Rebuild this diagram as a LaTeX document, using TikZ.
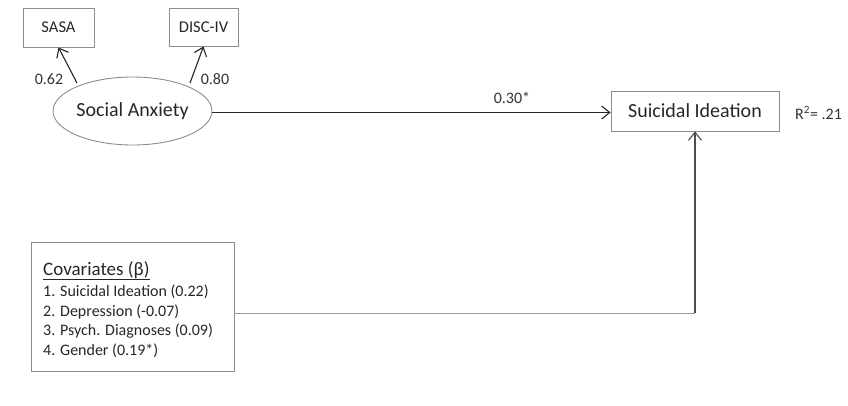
\documentclass[tikz,border=0pt]{standalone}
\usepackage{fontspec}
\setmainfont{Carlito}
\usetikzlibrary{shapes.geometric,arrows.meta}
\begin{document}
\begin{tikzpicture}[x=1pt,y=-1pt,
  box/.style={draw=black!45,line width=0.9pt,inner sep=0pt},
  con/.style={line width=1.1pt,draw=black!85,-{Straight Barb[length=8pt,width=13pt,line width=1.1pt]}},
  lbl/.style={font=\fontsize{16}{19}\selectfont,text=black!80,inner sep=0pt},
  item/.style={anchor=base west,inner sep=0pt,font=\fontsize{16}{19}\selectfont,text=black!85},
  big/.style={font=\fontsize{20}{24}\selectfont,text=black!85}]
\useasboundingbox (0,0) rectangle (848,405);
\node[box,minimum width=71pt,minimum height=39pt,font=\fontsize{16.5}{19}\selectfont,text=black!85] (sasa) at (58.5,27.5) {SASA};
\node[box,minimum width=69pt,minimum height=38pt,font=\fontsize{16.5}{19}\selectfont,text=black!85] (disc) at (203.5,27) {DISC-IV};
\node[ellipse,draw=black!45,line width=0.9pt,minimum width=159pt,minimum height=68pt,inner sep=0pt,big] (sa) at (132.5,111) {Social Anxiety};
\node[box,minimum width=168pt,minimum height=40pt,big] (si) at (695,111) {Suicidal Ideation};
\node[lbl,anchor=west] (r2) at (795,113) {R\textsuperscript{2}= .21};
\node[box,minimum width=203pt,minimum height=129pt] (cov) at (132.5,306.5) {};
\node[item,font=\fontsize{19}{22}\selectfont] (covt) at (43,275) {\underline{Covariates (β)}};
\node[item] (i1) at (43,296.5) {1. Suicidal Ideation (0.22)};
\node[item] (i2) at (43,316) {2. Depression (-0.07)};
\node[item] (i3) at (43,335.5) {3. Psych. Diagnoses (0.09)};
\node[item] (i4) at (43,355) {4. Gender (0.19*)};
\coordinate (c1) at (77,83);
\coordinate (c2) at (190,83);
\draw[con] (c1) -- (sasa.south);
\draw[con] (c2) -- (disc.south);
\node[lbl] (l1) at (49,79) {0.62};
\node[lbl] (l2) at (215,79) {0.80};
\draw[con] (sa.east |- 0,112.5) -- (si.west |- 0,112.5);
\node[lbl] (l3) at (512,98) {0.30*};
\coordinate (corner) at (si.south |- 0,313);
\draw[line width=1pt,draw=black!40] (cov.east |- corner) -- (corner);
\draw[con,draw=black!70] ([yshift=0.5pt]corner) -- (si.south);
\end{tikzpicture}
\end{document}
